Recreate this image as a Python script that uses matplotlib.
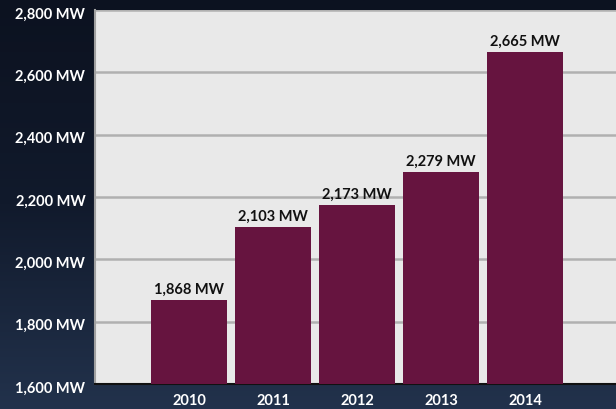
import numpy as np
import matplotlib
matplotlib.use("Agg")
import matplotlib.pyplot as plt
from matplotlib.transforms import ScaledTranslation

# capacidad instalada por año (MW)
years = ["2010", "2011", "2012", "2013", "2014"]
capacity = [1868, 2103, 2173, 2279, 2665]
y_ticks = [1600, 1800, 2000, 2200, 2400, 2600, 2800]

BAR_COLOR = "#66143f"
PLOT_BG = "#e9e9e9"

plt.rcParams["font.family"] = ["Lato", "DejaVu Sans"]

fig = plt.figure(figsize=(6.16, 4.09), dpi=100)

# fondo degradado oscuro
bg = fig.add_axes([0, 0, 1, 1], zorder=-10)
grad = np.linspace(0, 1, 256).reshape(-1, 1)
cmap = matplotlib.colors.LinearSegmentedColormap.from_list(
    "fondo", ["#0c1220", "#111a2c", "#22324c"])
bg.imshow(grad, aspect="auto", cmap=cmap, extent=[0, 1, 0, 1], origin="upper")
bg.axis("off")

ax = fig.add_axes([95 / 616, 1 - 384 / 409, 521 / 616, 374 / 409])
ax.set_facecolor(PLOT_BG)

x = np.arange(len(years))
bars = ax.bar(x, capacity, width=0.905, color=BAR_COLOR, zorder=3)

for b, v in zip(bars, capacity):
    ax.text(b.get_x() + b.get_width() / 2, v + 12, f"{v:,} MW",
            ha="center", va="bottom", fontsize=10.5, fontweight="bold",
            color="#111111", zorder=4)

ax.set_xlim(-1.12, 5.08)
ax.set_ylim(1600, 2800)
ax.set_xticks(x)
ax.set_xticklabels(years)
ax.set_yticks(y_ticks)
ax.set_yticklabels([f"{t:,} MW" for t in y_ticks])

ax.grid(axis="y", color="#b0b0b0", linewidth=1.8, zorder=1)
ax.tick_params(axis="both", length=0, colors="white", labelsize=10.5)
ax.tick_params(axis="y", pad=7)
ax.tick_params(axis="x", pad=7)

# etiquetas del eje y un poco por debajo de la línea
shift = ScaledTranslation(0, -0.03, fig.dpi_scale_trans)
for lbl in ax.get_yticklabels():
    lbl.set_fontweight("bold")
    lbl.set_transform(lbl.get_transform() + shift)
for lbl in ax.get_xticklabels():
    lbl.set_fontweight("bold")

for s in ["top", "right"]:
    ax.spines[s].set_visible(False)
ax.spines["left"].set_color("#a0a0a0")
ax.spines["left"].set_linewidth(1.5)
ax.spines["bottom"].set_color("#111111")
ax.spines["bottom"].set_linewidth(1.5)

fig.savefig("out.png", dpi=100)
